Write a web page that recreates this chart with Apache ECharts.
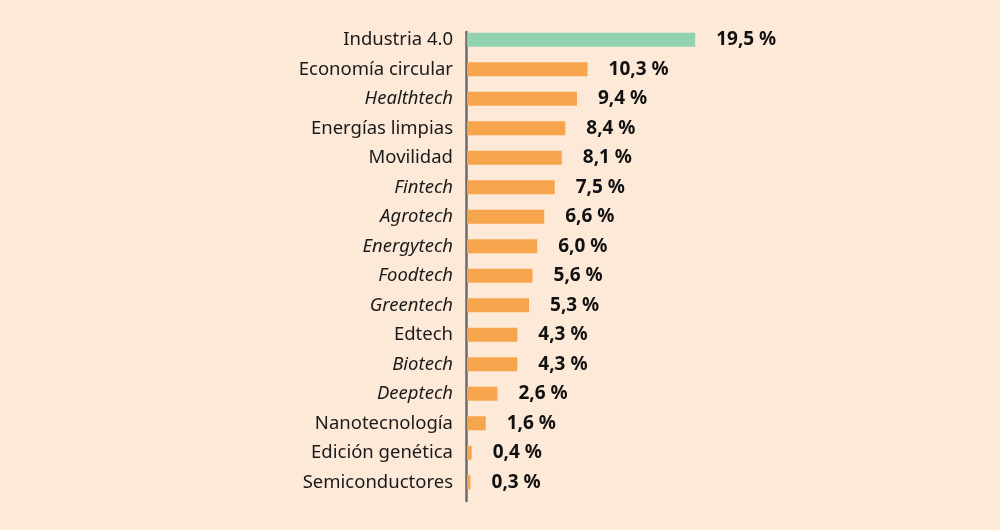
<!DOCTYPE html>
<html><head><meta charset="utf-8">
<script src="https://cdn.jsdelivr.net/npm/echarts@6/dist/echarts.min.js"></script>
<style>html,body{margin:0;padding:0;background:#FDE9D8;}#c{width:1000px;height:530px;}</style>
</head><body><div id="c"></div>
<script>
const categories = ["Industria 4.0","Economía circular","Healthtech","Energías limpias","Movilidad","Fintech","Agrotech","Energytech","Foodtech","Greentech","Edtech","Biotech","Deeptech","Nanotecnología","Edición genética","Semiconductores"];
const italicCats = ["Healthtech","Fintech","Agrotech","Energytech","Foodtech","Greentech","Biotech","Deeptech"];
const values = [19.5,10.3,9.4,8.4,8.1,7.5,6.6,6.0,5.6,5.3,4.3,4.3,2.6,1.6,0.4,0.3];
const highlight = "Industria 4.0";

const chart = echarts.init(document.getElementById('c'));
const font = "'Noto Sans', sans-serif";
chart.setOption({
  backgroundColor: '#FDE9D8',
  animation: false,
  grid: [
    {left: 467, right: 65, top: 25, bottom: 33},
    {left: 466, right: 65, top: 32, bottom: 29}
  ],
  xAxis: [
    {type: 'value', min: 0, max: 40, show: false, gridIndex: 0},
    {type: 'value', min: 0, max: 40, show: false, gridIndex: 1}
  ],
  yAxis: [{
    type: 'category', inverse: true, data: categories, gridIndex: 0,
    axisLine: {show: false},
    axisTick: {show: false},
    axisLabel: {
      margin: 14, fontFamily: font, fontSize: 18.5, color: '#1a1a1a',
      formatter: v => italicCats.includes(v) ? '{i|' + v + '}' : v,
      rich: {i: {fontStyle: 'italic', fontFamily: font, fontSize: 18.5, color: '#1a1a1a'}}
    }
  }, {
    type: 'category', data: [''], gridIndex: 1,
    axisLine: {show: true, lineStyle: {color: '#6b6b6b', width: 2.5}},
    axisTick: {show: false}, axisLabel: {show: false}
  }],
  series: [{
    type: 'bar', barWidth: 14, xAxisIndex: 0, yAxisIndex: 0, z: 1,
    data: values.map((v, i) => ({value: v, itemStyle: {color: categories[i] === highlight ? '#93D2B0' : '#F7A54C'}})),
    label: {
      show: true, position: 'right', distance: 21,
      fontFamily: font, fontWeight: 'bold', fontSize: 19, color: '#111',
      formatter: p => p.value.toFixed(1).replace('.', ',') + ' %'
    }
  }]
});
</script></body></html>
